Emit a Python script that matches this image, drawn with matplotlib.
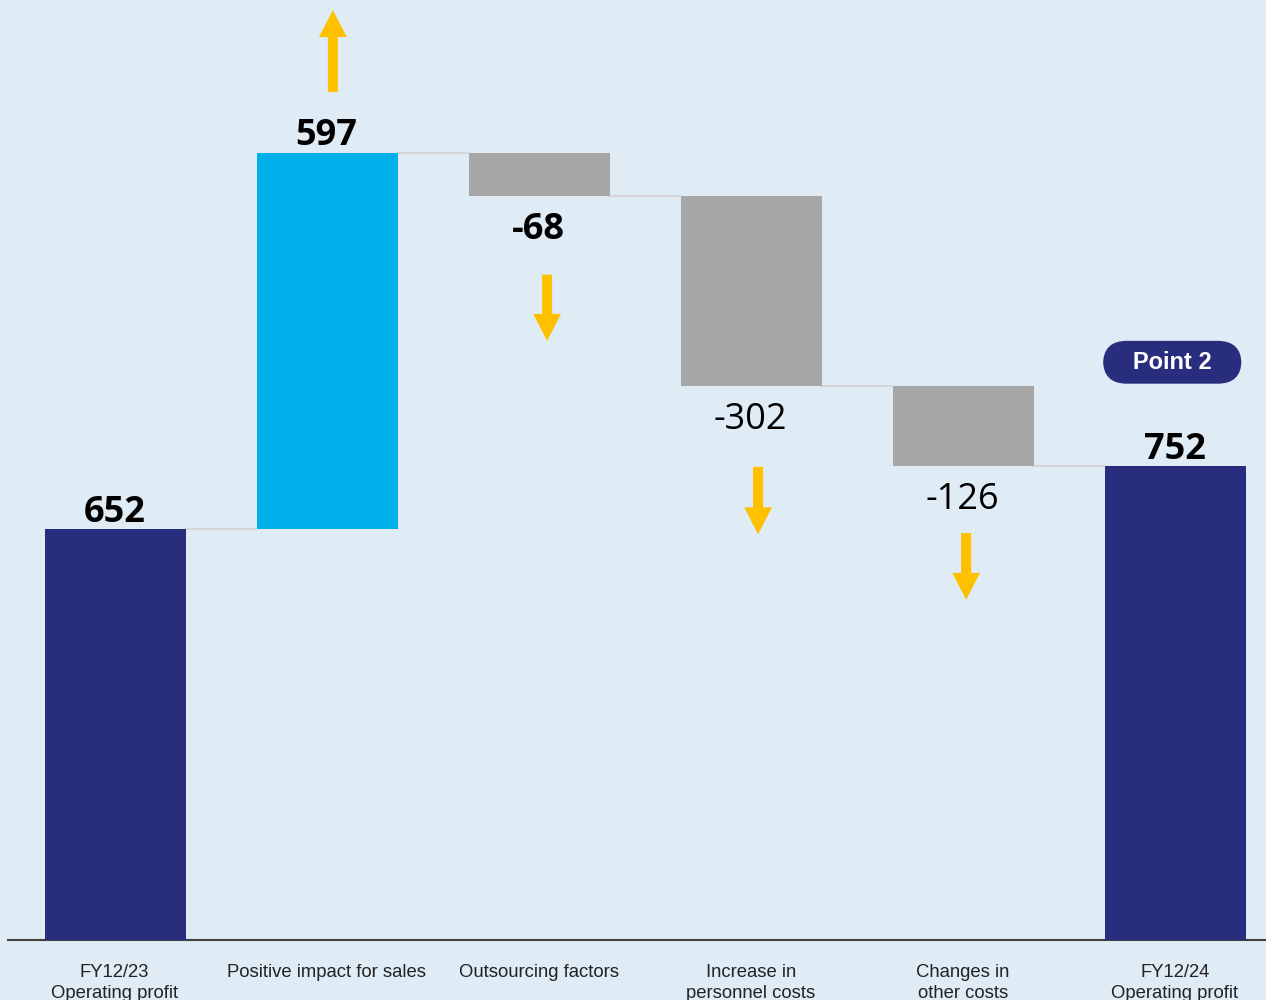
import matplotlib
matplotlib.use("Agg")
import matplotlib.pyplot as plt
from matplotlib.patches import ArrowStyle

# ---- data ----
categories = ["FY12/23\nOperating profit", "Positive impact for sales", "Outsourcing factors",
              "Increase in\npersonnel costs", "Changes in\nother costs", "FY12/24\nOperating profit"]
start_value = 652
changes = [597, -68, -302, -126]
end_value = 752
value_labels = ["652", "597", "-68", "-302", "-126", "752"]
label_bold = [True, True, True, False, False, True]

# ---- style ----
BG = "#DFEBF5"
NAVY = "#282D7E"
CYAN = "#00B0EA"
GRAY = "#A6A6A6"
YELLOW = "#FFC000"
CONN = "#D4D6DA"

fig = plt.figure(figsize=(12.66, 10), dpi=100, facecolor=BG)
ax = fig.add_axes([8/1266, 0.06, 1 - 8/1266, 0.94])
ax.set_facecolor(BG)

n = len(categories)
x = list(range(n))
width = 0.665

bottoms, heights, colors = [], [], []
bottoms.append(0); heights.append(start_value); colors.append(NAVY)
level = start_value
for c in changes:
    if c >= 0:
        bottoms.append(level); heights.append(c); colors.append(CYAN)
    else:
        bottoms.append(level + c); heights.append(-c); colors.append(GRAY)
    level += c
bottoms.append(0); heights.append(end_value); colors.append(NAVY)

ax.bar([xi + 0.004 for xi in x], heights, width=width, bottom=bottoms, color=colors,
       edgecolor="none", zorder=3)

# connectors
levels = [start_value]
lv = start_value
for c in changes:
    lv += c
    levels.append(lv)
for i, lv in enumerate(levels):
    ax.plot([i + width/2, i + 1 - width/2], [lv, lv], color=CONN, lw=1.5, zorder=2)

# value labels
for i in range(n):
    top = bottoms[i] + heights[i]
    if i in (0, n - 1) or changes[i - 1] >= 0:
        y, off = top, 12
    else:
        y, off = bottoms[i], -24.5
    ax.annotate(value_labels[i], (i, y), xytext=(0, off), textcoords="offset points",
                ha="center", va="center", fontsize=26, family="Open Sans",
                fontweight="bold" if label_bold[i] else "normal", color="black", zorder=4)

# arrows (tail offset, tip offset relative to the bar's end)
arrow_specs = {1: (0.03, 97, 227), 2: (0.04, -125, -230), 3: (0.035, -128, -235), 4: (0.016, -107, -213)}
style = ArrowStyle("simple", head_length=0.97, head_width=1.0, tail_width=0.36)
for i, (dx, t, h) in arrow_specs.items():
    ref = bottoms[i] + heights[i] if changes[i - 1] >= 0 else bottoms[i]
    ax.annotate("", xy=(i + dx, ref + h), xytext=(i + dx, ref + t),
                arrowprops=dict(arrowstyle=style, mutation_scale=20, color=YELLOW,
                                shrinkA=0, shrinkB=0, lw=0), zorder=4)

# Point 2 badge
ax.text(n - 1 - 0.012, 917, "   Point 2   ", ha="center", va="center", fontsize=17,
        fontweight="bold", family="Liberation Sans", color="white",
        bbox=dict(boxstyle="round,pad=0.42,rounding_size=1.0", fc=NAVY, ec="none"), zorder=5)

ax.set_xlim(-0.502, 5.43)
ax.set_ylim(0, 1492)
ax.set_xticks(x)
ax.set_xticklabels(categories, fontsize=13.3, family="Liberation Sans", color="#222222",
                   linespacing=1.3, va="top")
ax.tick_params(axis="x", length=0, pad=17)
ax.set_yticks([])
for s in ["top", "right", "left"]:
    ax.spines[s].set_visible(False)
ax.spines["bottom"].set_color("#404040")
ax.spines["bottom"].set_linewidth(1.5)

fig.savefig("out.png", dpi=100, facecolor=BG)
